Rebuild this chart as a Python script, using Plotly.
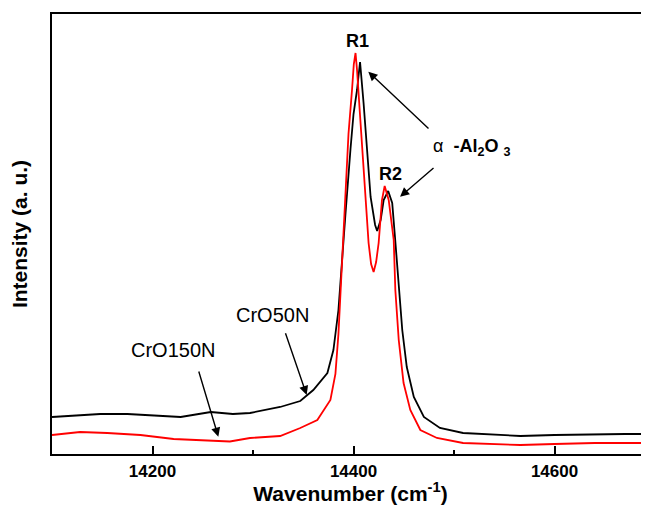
import plotly.graph_objects as go

# CrO50N (black) spectrum
wn_50 = [14100, 14128, 14148, 14175, 14198, 14228, 14258, 14280, 14297, 14327, 14347, 14352,
         14360, 14374, 14380, 14385, 14389, 14392, 14397, 14400, 14403.5, 14406.5, 14410,
         14413.5, 14417, 14421.5, 14423.5, 14427, 14430, 14434.5, 14438.5, 14441.5, 14445,
         14448.5, 14453, 14460, 14470, 14486, 14509, 14540, 14566, 14600, 14640, 14670, 14700]
int_50 = [37, 39, 40, 40, 39, 37, 42, 40, 41, 47, 53, 57,
          64, 81, 104, 144, 194, 240, 305, 340, 364, 392, 351,
          301, 257, 229, 223, 234, 254, 263, 251, 214, 164,
          124, 87, 57, 37, 26, 21, 19, 18, 19, 20, 20, 20]

# CrO150N (red) spectrum
wn_150 = [14100, 14128, 14155, 14188, 14221, 14258, 14277, 14297, 14327, 14347, 14364, 14377,
          14382, 14385, 14387, 14389, 14392, 14395, 14398.5, 14400.3, 14402, 14403.5, 14406.8,
          14410, 14411.7, 14413.4, 14415, 14417.5, 14420, 14422.5, 14425, 14428.3, 14431,
          14435, 14440, 14441.6, 14445, 14449.8, 14456.5, 14466.5, 14483, 14509, 14540,
          14566, 14600, 14640, 14700]
int_150 = [19, 22, 21, 19, 15, 13, 12.5, 16, 18, 26, 34, 54,
           80, 120, 161, 205, 265, 320, 364, 390, 401, 384, 334,
           284, 261, 236, 211, 190, 182, 192, 211, 254, 268,
           254, 214, 164, 114, 71, 44, 24, 16, 11, 10,
           9, 10, 11, 11]

x_ticks = [14200, 14400, 14600]
x_tick_labels = ["14200", "14400", "14600"]

FONT = "Liberation Sans, Arial, sans-serif"

fig = go.Figure()
fig.add_trace(go.Scatter(x=wn_50, y=int_50, mode="lines", name="CrO50N",
                         line=dict(color="#000000", width=1.8)))
fig.add_trace(go.Scatter(x=wn_150, y=int_150, mode="lines", name="CrO150N",
                         line=dict(color="#ff0000", width=1.8)))

# text labels
texts = [
    ("<b>R1</b>", 14404, 413.5, 18, "center"),
    ("<b>R2</b>", 14436.8, 280.5, 18, "center"),
    ("CrO50N", 14318.9, 139, 20, "center"),
    ("CrO150N", 14219.9, 104, 20, "center"),
]
for t, x, y, s, anc in texts:
    fig.add_annotation(x=x, y=y, text=t, showarrow=False, xanchor=anc, yanchor="middle",
                       font=dict(family=FONT, size=s, color="black"))

fig.add_annotation(x=14477, y=307, text="α  <b>-Al<sub>2</sub>O <sub>3</sub></b>", showarrow=False,
                   xanchor="left", yanchor="middle",
                   font=dict(family=FONT, size=18, color="black"))

# arrows: (head_x, head_y, tail_x, tail_y)
arrows = [
    (14414.7, 382.3, 14476.1, 324),
    (14446.3, 257.3, 14481.1, 287.3),
    (14353.4, 59, 14331.8, 122.3),
    (14265.5, 17.3, 14245.6, 84),
]
for hx, hy, tx, ty in arrows:
    fig.add_annotation(x=hx, y=hy, ax=tx, ay=ty, xref="x", yref="y", axref="x", ayref="y",
                       text="", showarrow=True, arrowhead=2, arrowsize=1.3, arrowwidth=1.4,
                       arrowcolor="black")

# page body has an 8px margin, so the figure is 8px smaller on each side
fig.update_layout(
    width=641, height=497,
    margin=dict(l=44, r=0, t=6, b=51, autoexpand=False),
    paper_bgcolor="white", plot_bgcolor="white",
    showlegend=False,
    font=dict(family=FONT, color="black"),
)
fig.update_xaxes(
    range=[14100, 14694], showgrid=False, zeroline=False, automargin=False,
    showline=True, linecolor="black", linewidth=2, mirror=True,
    tickvals=x_ticks, ticktext=x_tick_labels,
    ticks="inside", ticklen=8, tickwidth=2, tickcolor="black",
    tickfont=dict(family=FONT, size=17, color="black", weight="bold"),
    ticklabelstandoff=1,
    minor=dict(tickvals=[14300, 14500], ticks="inside", ticklen=4, tickwidth=2, tickcolor="black"),
    title=dict(text="<b>Wavenumber (cm<sup>-1</sup>)</b>", font=dict(family=FONT, size=21, color="black"),
               standoff=6),
)
fig.update_yaxes(
    range=[0, 440], showgrid=False, zeroline=False, automargin=False,
    showline=True, linecolor="black", linewidth=2, mirror=False,
    showticklabels=False, ticks="",
    title=dict(text="<b>Intensity (a. u.)</b>", font=dict(family=FONT, size=21, color="black"),
               standoff=18),
)

fig.write_html("out.html")
